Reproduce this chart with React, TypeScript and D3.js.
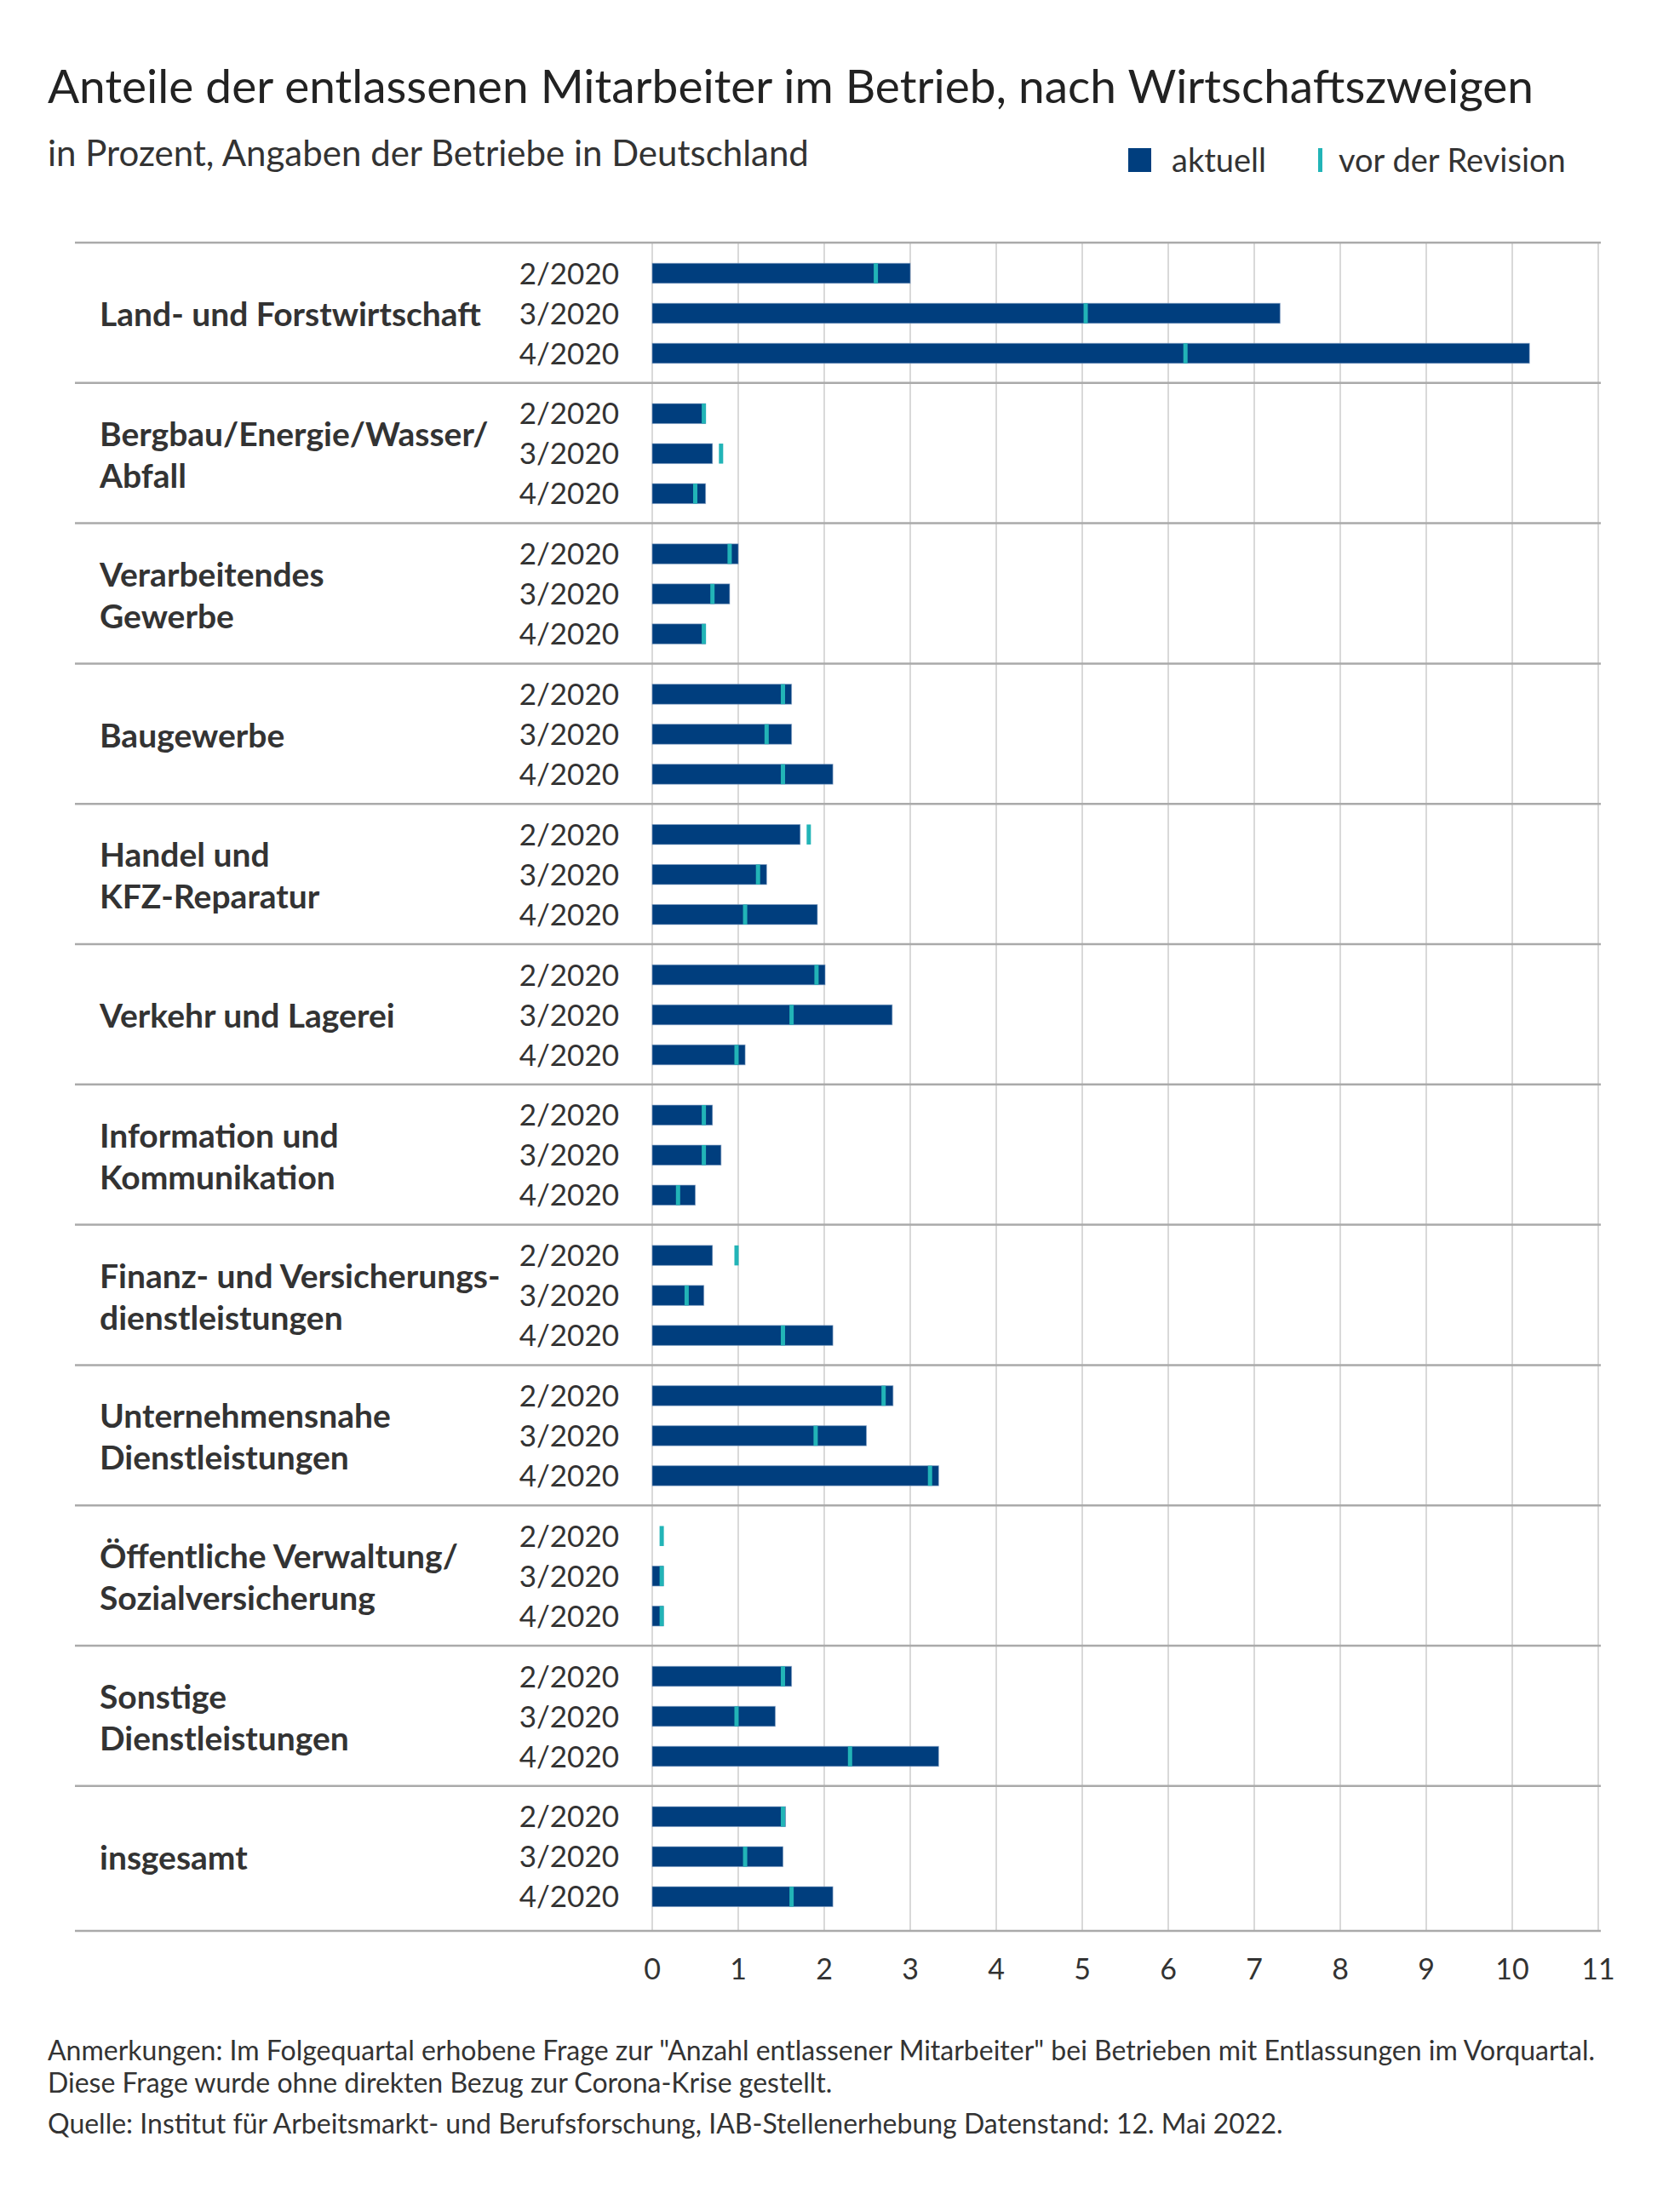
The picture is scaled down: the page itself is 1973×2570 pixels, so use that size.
import React, { useEffect, useRef } from "react";
import * as d3 from "d3";

const categories: string[][] = [
  ["Land- und Forstwirtschaft"],
  ["Bergbau/Energie/Wasser/", "Abfall"],
  ["Verarbeitendes", "Gewerbe"],
  ["Baugewerbe"],
  ["Handel und", "KFZ-Reparatur"],
  ["Verkehr und Lagerei"],
  ["Information und", "Kommunikation"],
  ["Finanz- und Versicherungs-", "dienstleistungen"],
  ["Unternehmensnahe", "Dienstleistungen"],
  ["Öffentliche Verwaltung/", "Sozialversicherung"],
  ["Sonstige", "Dienstleistungen"],
  ["insgesamt"],
];

const quarters = ["2/2020", "3/2020", "4/2020"];

// "aktuell" values per category (2/2020, 3/2020, 4/2020)
const aktuell: number[][] = [
  [3.0, 7.3, 10.2],
  [0.62, 0.7, 0.62],
  [1.0, 0.9, 0.62],
  [1.62, 1.62, 2.1],
  [1.72, 1.33, 1.92],
  [2.01, 2.79, 1.08],
  [0.7, 0.8, 0.5],
  [0.7, 0.6, 2.1],
  [2.8, 2.49, 3.33],
  [0, 0.13, 0.13],
  [1.62, 1.43, 3.33],
  [1.55, 1.52, 2.1],
];

// "vor der Revision" values
const vorRevision: number[][] = [
  [2.6, 5.04, 6.2],
  [0.6, 0.8, 0.5],
  [0.9, 0.7, 0.6],
  [1.52, 1.33, 1.52],
  [1.82, 1.23, 1.08],
  [1.91, 1.62, 0.98],
  [0.6, 0.6, 0.3],
  [0.98, 0.4, 1.52],
  [2.69, 1.9, 3.23],
  [0.11, 0.11, 0.11],
  [1.52, 0.98, 2.3],
  [1.52, 1.08, 1.62],
];

const xTicks = [0, 1, 2, 3, 4, 5, 6, 7, 8, 9, 10, 11];

const titleText = "Anteile der entlassenen Mitarbeiter im Betrieb, nach Wirtschaftszweigen";
const subtitleText = "in Prozent, Angaben der Betriebe in Deutschland";
const legendLabels = ["aktuell", "vor der Revision"];
const notes = [
  'Anmerkungen: Im Folgequartal erhobene Frage zur "Anzahl entlassener Mitarbeiter" bei Betrieben mit Entlassungen im Vorquartal.',
  "Diese Frage wurde ohne direkten Bezug zur Corona-Krise gestellt.",
  "Quelle: Institut für Arbeitsmarkt- und Berufsforschung, IAB-Stellenerhebung Datenstand: 12. Mai 2022.",
];

const W = 1973;
const H = 2570;
const FONT = "Lato, 'Noto Sans', sans-serif";
const DARK = "#003E7E";
const TEAL = "#22B4B7";
const TEXT = "#333333";

export default function App() {
  const ref = useRef<SVGSVGElement>(null);

  useEffect(() => {
    const svg = d3.select(ref.current);
    svg.selectAll("*").remove();

    const top = 285;
    const groupH = 164.8;
    const bottom = 2268;

    const x = d3.scaleLinear().domain([0, 11]).range([766, 1877]);
    const yGroup = d3
      .scaleBand<number>()
      .domain(categories.map((_, i) => i))
      .range([top, top + groupH * categories.length]);
    const yQ = d3.scalePoint<string>().domain(quarters).range([36, 130]);
    const barH = 23.5;

    svg.append("rect").attr("width", W).attr("height", H).attr("fill", "#fff");

    // Title & subtitle
    svg
      .append("text")
      .attr("x", 56)
      .attr("y", 121)
      .attr("font-family", FONT)
      .attr("font-size", 55)
      .attr("fill", "#222")
      .text(titleText);
    svg
      .append("text")
      .attr("x", 56)
      .attr("y", 195)
      .attr("font-family", FONT)
      .attr("font-size", 42)
      .attr("fill", TEXT)
      .text(subtitleText);

    // Legend
    const lg = svg.append("g");
    lg.append("rect").attr("x", 1325).attr("y", 174).attr("width", 27).attr("height", 28).attr("fill", DARK);
    lg.append("text")
      .attr("x", 1376)
      .attr("y", 202)
      .attr("font-family", FONT)
      .attr("font-size", 38)
      .attr("fill", TEXT)
      .text(legendLabels[0]);
    lg.append("rect").attr("x", 1548).attr("y", 174).attr("width", 5).attr("height", 28).attr("fill", TEAL);
    lg.append("text")
      .attr("x", 1572)
      .attr("y", 202)
      .attr("font-family", FONT)
      .attr("font-size", 38)
      .attr("fill", TEXT)
      .text(legendLabels[1]);

    // Vertical gridlines
    svg
      .append("g")
      .selectAll("line")
      .data(xTicks)
      .join("line")
      .attr("x1", (d) => x(d))
      .attr("x2", (d) => x(d))
      .attr("y1", top)
      .attr("y2", bottom)
      .attr("stroke", "#d9d9d9")
      .attr("stroke-width", 2);

    // Group separators
    const seps = categories.map((_, i) => yGroup(i) as number).concat([bottom]);
    svg
      .append("g")
      .selectAll("line")
      .data(seps)
      .join("line")
      .attr("x1", 88)
      .attr("x2", 1880)
      .attr("y1", (d) => d)
      .attr("y2", (d) => d)
      .attr("stroke", "#aaaaaa")
      .attr("stroke-width", 2.5);

    // Groups
    categories.forEach((lines, i) => {
      const g0 = yGroup(i) as number;
      const center = g0 + yGroup.bandwidth() / 2 + 2;
      const capH = 28;
      const lineGap = 49;
      const n = lines.length;
      lines.forEach((ln, j) => {
        const baseline = center + capH / 2 + (j - (n - 1) / 2) * lineGap;
        svg
          .append("text")
          .attr("x", 117)
          .attr("y", baseline)
          .attr("font-family", FONT)
          .attr("font-weight", 700)
          .attr("font-size", 39)
          .attr("fill", TEXT)
          .text(ln);
      });

      quarters.forEach((q, k) => {
        const cy = g0 + (yQ(q) as number);
        svg
          .append("text")
          .attr("x", 727)
          .attr("y", cy + 12.5)
          .attr("text-anchor", "end")
          .attr("font-family", FONT)
          .attr("font-size", 35)
          .attr("fill", TEXT)
          .text(q);
        const v = aktuell[i][k];
        if (v > 0) {
          svg
            .append("rect")
            .attr("x", x(0))
            .attr("y", cy - barH / 2)
            .attr("width", x(v) - x(0))
            .attr("height", barH)
            .attr("fill", DARK)
            .attr("stroke", "#7d9bc1")
            .attr("stroke-opacity", 0.6)
            .attr("stroke-width", 1);
        }
        const r = vorRevision[i][k];
        svg
          .append("rect")
          .attr("x", x(r) - 2.5)
          .attr("y", cy - barH / 2)
          .attr("width", 5)
          .attr("height", barH)
          .attr("fill", TEAL);
      });
    });

    // X axis labels
    svg
      .append("g")
      .selectAll("text")
      .data(xTicks)
      .join("text")
      .attr("x", (d) => x(d))
      .attr("y", 2325)
      .attr("text-anchor", "middle")
      .attr("font-family", FONT)
      .attr("font-size", 34)
      .attr("fill", TEXT)
      .text((d) => String(d));

    // Notes
    const noteY = [2420, 2458, 2506];
    notes.forEach((t, i) => {
      svg
        .append("text")
        .attr("x", 56)
        .attr("y", noteY[i])
        .attr("font-family", FONT)
        .attr("font-size", 32)
        .attr("fill", TEXT)
        .text(t);
    });
  }, []);

  return (
    <svg
      ref={ref}
      width={W}
      height={H}
      style={{ position: "absolute", left: 0, top: 0, display: "block" }}
    />
  );
}
